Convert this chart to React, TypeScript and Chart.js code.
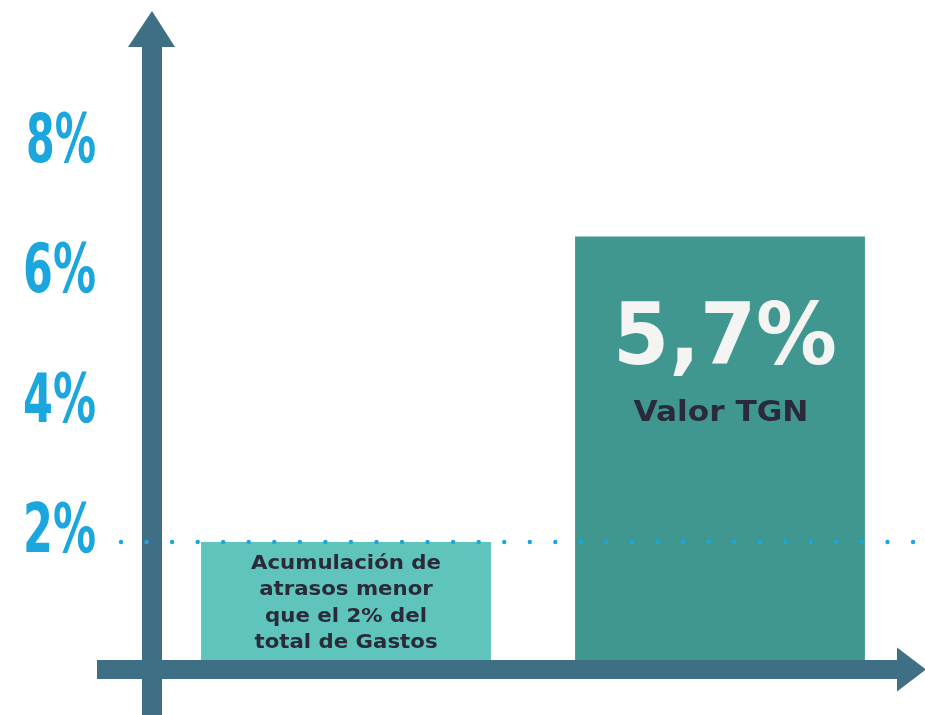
import React, { useEffect, useRef } from "react";
import { Chart, registerables } from "chart.js";

Chart.register(...registerables);

const categories = ["Acumulación de atrasos", "Valor TGN"];
const barValues = [2, 6.7];
const barColors = ["#5fc4bc", "#3f978f"];
const thresholdValue = 2;
const yTickValues = [2, 4, 6, 8];
const yTickLabels = ["2%", "4%", "6%", "8%"];
const firstBarCaption = ["Acumulación de", "atrasos menor", "que el 2% del", "total de Gastos"];
const secondBarValueLabel = "5,7%";
const secondBarCaption = "Valor TGN";

const AXIS_COLOR = "#3e6f85";
const CYAN = "#1ba6de";
const DARK_TEXT = "#2b2a3a";

function fillTextWidth(
  ctx: CanvasRenderingContext2D,
  text: string,
  x: number,
  y: number,
  width: number,
  align: "left" | "center" | "right"
) {
  const w = ctx.measureText(text).width;
  const s = width / w;
  ctx.save();
  ctx.translate(x, y);
  ctx.scale(s, 1);
  ctx.textAlign = align;
  ctx.fillText(text, 0, 0);
  ctx.restore();
}

const overlayPlugin = {
  id: "overlay",
  afterDatasetsDraw(chart: any) {
    const ctx: CanvasRenderingContext2D = chart.ctx;
    const ys = chart.scales.y;
    const area = chart.chartArea;
    const y0 = ys.getPixelForValue(0);
    const yAxisX = area.left - 7;
    const axY = y0 - 2.5;
    const W = chart.width;
    const H = chart.height;
    const bars = chart.getDatasetMeta(0).data;

    ctx.save();
    ctx.textBaseline = "alphabetic";
    ctx.fillStyle = DARK_TEXT;
    ctx.font = "bold 19px 'DejaVu Sans', sans-serif";
    const b1 = bars[0];
    const refW = ctx.measureText(firstBarCaption[0]).width;
    const capScale = 190 / refW;
    firstBarCaption.forEach((line, i) => {
      const lw = ctx.measureText(line).width * capScale;
      fillTextWidth(ctx, line, b1.x, b1.y + 27 + i * 26.3, lw, "center");
    });
    const b2 = bars[1];
    ctx.fillStyle = "#f4f4f2";
    ctx.font = "bold 85px 'DejaVu Sans', sans-serif";
    fillTextWidth(ctx, secondBarValueLabel, b2.x + 5, b2.y + 127, 224, "center");
    ctx.fillStyle = DARK_TEXT;
    ctx.font = "bold 28px 'DejaVu Sans', sans-serif";
    fillTextWidth(ctx, secondBarCaption, b2.x + 1, b2.y + 184, 175, "center");

    // axes with arrows
    ctx.fillStyle = AXIS_COLOR;
    ctx.fillRect(yAxisX - 10, 40, 20, H - 40);
    ctx.beginPath();
    ctx.moveTo(yAxisX, 11);
    ctx.lineTo(yAxisX + 23, 47);
    ctx.lineTo(yAxisX - 24, 47);
    ctx.closePath();
    ctx.fill();

    ctx.fillRect(97, axY - 9.5, 805, 19);
    ctx.beginPath();
    ctx.moveTo(897, axY - 22);
    ctx.lineTo(W + 1, axY);
    ctx.lineTo(897, axY + 22);
    ctx.closePath();
    ctx.fill();

    // dotted threshold line
    const ty = ys.getPixelForValue(thresholdValue);
    ctx.fillStyle = CYAN;
    for (let x = 121; x < W; x += 25.55) {
      ctx.beginPath();
      ctx.arc(x, ty, 2.2, 0, Math.PI * 2);
      ctx.fill();
    }

    // tick labels
    ctx.fillStyle = CYAN;
    ctx.font = "bold 68px 'DejaVu Sans', sans-serif";
    yTickValues.forEach((v, i) => {
      const py = ys.getPixelForValue(v);
      fillTextWidth(ctx, yTickLabels[i], 96, py + 10, i === 3 ? 70 : 73, "right");
    });
    ctx.restore();
  },
};

export default function App() {
  const ref = useRef<HTMLCanvasElement | null>(null);
  useEffect(() => {
    document.body.style.margin = "0";
    const canvas = ref.current;
    if (!canvas) return;
    const chart = new Chart(canvas, {
      type: "bar",
      data: {
        labels: categories,
        datasets: [
          {
            data: barValues,
            backgroundColor: barColors,
            borderWidth: 0,
            categoryPercentage: 1,
            barPercentage: 0.775,
          },
        ],
      },
      options: {
        responsive: false,
        animation: false,
        devicePixelRatio: 1,
        layout: { padding: { left: 159, right: 18, top: 22, bottom: 43 } },
        scales: {
          x: { display: false },
          y: { display: false, min: 0, max: 10 },
        },
        plugins: {
          legend: { display: false },
          tooltip: { enabled: false },
        },
      },
      plugins: [overlayPlugin],
    });
    return () => chart.destroy();
  }, []);
  return (
    <div style={{ width: 925, height: 715, background: "#ffffff" }}>
      <canvas ref={ref} width={925} height={715} />
    </div>
  );
}
